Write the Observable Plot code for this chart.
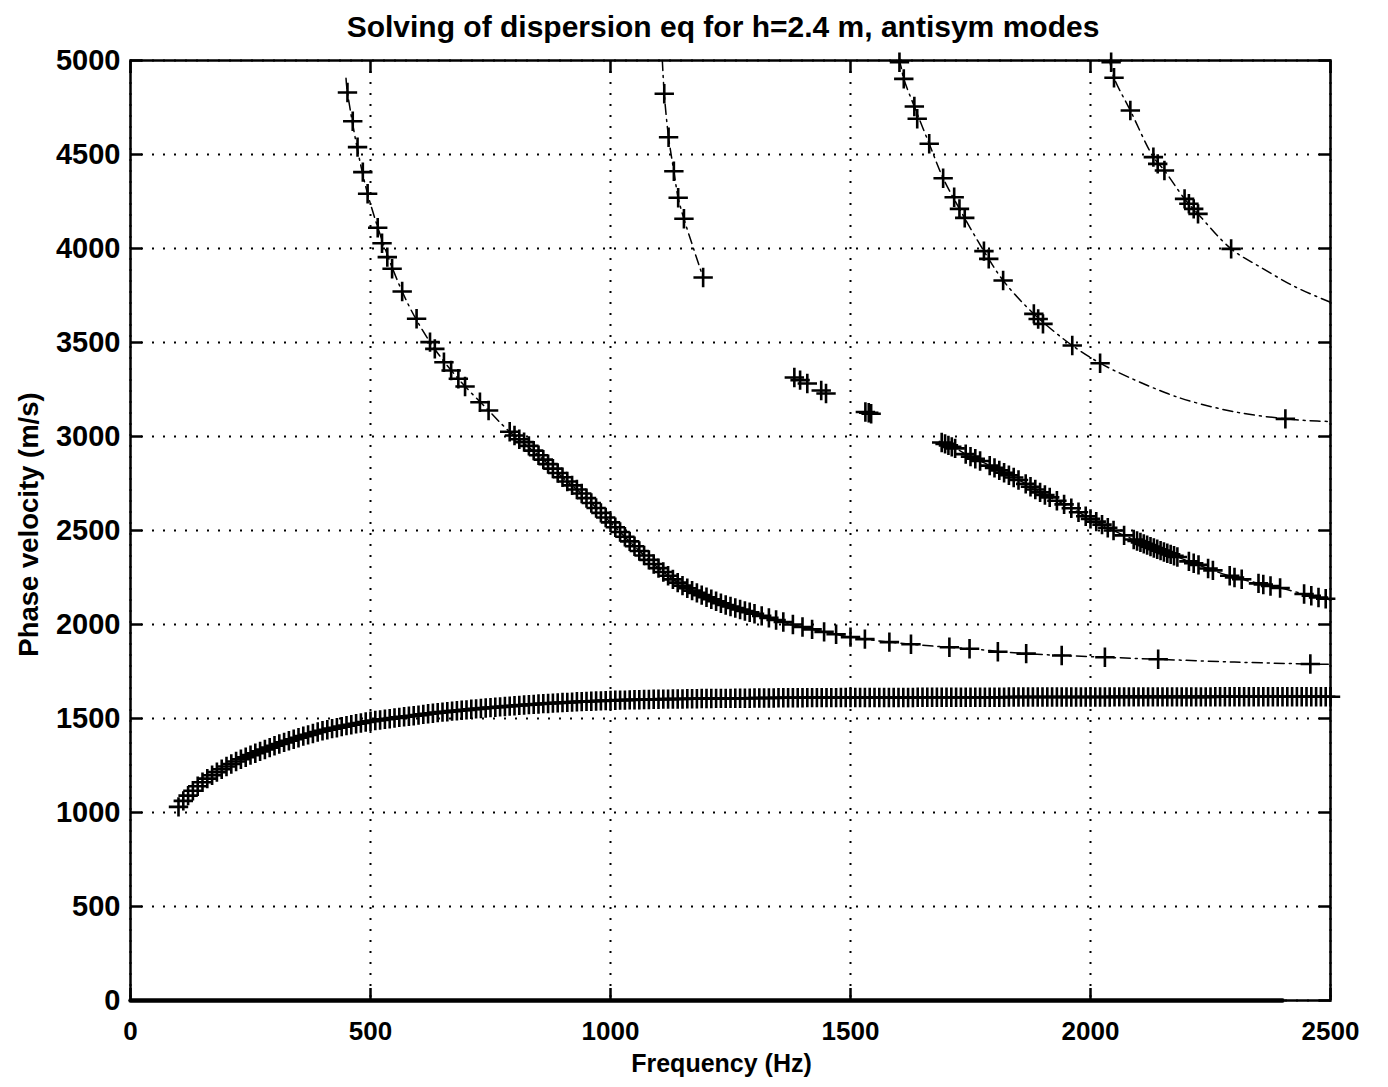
<!DOCTYPE html>
<html>
<head>
<meta charset="utf-8">
<script src="https://cdn.jsdelivr.net/npm/d3@7"></script>
<script src="https://cdn.jsdelivr.net/npm/@observablehq/plot@0.6"></script>
<style>
  body { margin: 0; background: #fff; }
  #title { box-sizing: border-box; width: 1388px; height: 46px; line-height: 1;
    font: bold 30px "Liberation Sans", Arial, sans-serif; text-align: center;
    padding-top: 10px; padding-left: 116px; padding-right: 58px; color: #000; white-space: nowrap; }
</style>
</head>
<body>
<div id="title">Solving of dispersion eq for h=2.4 m, antisym modes</div>
<div id="chart"></div>
<script>
// ---- tick values ----
const xTicks = [0, 500, 1000, 1500, 2000, 2500];
const yTicks = [0, 500, 1000, 1500, 2000, 2500, 3000, 3500, 4000, 4500, 5000];
const xLabel = "Frequency (Hz)";
const yLabel = "Phase velocity (m/s)";

// ---- mode 0 (fundamental) roots ----
const mode0F = [100,110,120,130,140,150,160,170,180,190,200,
 210,220,230,240,250,260,270,280,290,300,
 310,320,330,340,350,360,370,380,390,400,
 410,420,430,440,450,460,470,480,490,500,
 510,520,530,540,550,560,570,580,590,600,
 610,620,630,640,650,660,670,680,690,700,
 710,720,730,740,750,760,770,780,790,800,
 810,820,830,840,850,860,870,880,890,900,
 910,920,930,940,950,960,970,980,990,1000,
 1010,1020,1030,1040,1050,1060,1070,1080,1090,1100,
 1110,1120,1130,1140,1150,1160,1170,1180,1190,1200,
 1210,1220,1230,1240,1250,1260,1270,1280,1290,1300,
 1310,1320,1330,1340,1350,1360,1370,1380,1390,1400,
 1410,1420,1430,1440,1450,1460,1470,1480,1490,1500,
 1510,1520,1530,1540,1550,1560,1570,1580,1590,1600,
 1610,1620,1630,1640,1650,1660,1670,1680,1690,1700,
 1710,1720,1730,1740,1750,1760,1770,1780,1790,1800,
 1810,1820,1830,1840,1850,1860,1870,1880,1890,1900,
 1910,1920,1930,1940,1950,1960,1970,1980,1990,2000,
 2010,2020,2030,2040,2050,2060,2070,2080,2090,2100,
 2110,2120,2130,2140,2150,2160,2170,2180,2190,2200,
 2210,2220,2230,2240,2250,2260,2270,2280,2290,2300,
 2310,2320,2330,2340,2350,2360,2370,2380,2390,2400,
 2410,2420,2430,2440,2450,2460,2470,2480,2490,2500];
const mode0V = [1030,1062,1090,1116,1140,1161,1180,1198,1215,1230,1245,
 1258,1271,1283,1294,1305,1315,1325,1335,1345,1355,
 1364,1373,1382,1390,1398,1406,1413,1420,1428,1435,
 1440,1446,1451,1457,1462,1467,1472,1476,1481,1485,
 1489,1492,1496,1499,1503,1506,1509,1512,1515,1518,
 1522,1525,1528,1531,1534,1536,1539,1541,1544,1546,
 1549,1551,1553,1556,1558,1560,1562,1564,1566,1568,
 1570,1572,1574,1575,1577,1579,1580,1582,1583,1585,
 1586,1587,1589,1590,1591,1592,1593,1594,1595,1596,
 1597,1598,1598,1599,1600,1600,1601,1601,1602,1602,
 1603,1603,1604,1604,1604,1605,1605,1605,1606,1606,
 1606,1607,1607,1607,1607,1608,1608,1608,1608,1609,
 1609,1609,1609,1609,1610,1610,1610,1610,1610,1610,
 1611,1611,1611,1611,1611,1611,1611,1612,1612,1612,
 1612,1612,1612,1612,1612,1612,1612,1612,1612,1612,
 1612,1612,1612,1613,1613,1613,1613,1613,1613,1613,
 1613,1613,1613,1613,1613,1613,1613,1613,1613,1613,
 1613,1613,1614,1614,1614,1614,1614,1614,1614,1614,
 1614,1614,1614,1614,1614,1614,1614,1614,1614,1614,
 1614,1614,1614,1614,1615,1615,1615,1615,1615,1615,
 1615,1615,1615,1615,1615,1615,1615,1615,1615,1615,
 1615,1615,1615,1615,1615,1616,1616,1616,1616,1616,
 1616,1616,1616,1616,1616,1616,1616,1616,1616,1616,
 1616,1616,1616,1616,1616,1616,1616,1616,1616,1616];

// ---- mode 1 roots and curve ----
const mode1F = [452,463,473,484,494,515,524,535,545,566,596,624,634,653,668,683,697,728,746,
 790,800,810,820,830,840,850,860,870,880,890,900,910,920,930,940,950,960,970,980,
 990,1000,1010,1020,1030,1040,1050,1060,1070,1080,1090,1100,1110,1120,1130,1140,1150,1160,1170,1180,
 1190,1200,1210,1220,1230,1240,1250,1260,1270,1280,1290,1300,
 1315,1330,1345,1360,1380,1400,1420,1445,1470,1500,1530,1581,1626,1706,1748,1807,1866,1940,2030,2141,2458];
const mode1V = [4830,4677,4539,4406,4291,4110,4028,3954,3892,3771,3626,3502,3466,3395,3351,3307,3266,3182,3138,
 3025,3005,2985,2970,2950,2925,2900,2877,2853,2829,2806,2783,2761,2740,2718,2697,2672,2646,2620,2594,
 2569,2543,2517,2492,2467,2442,2416,2391,2367,2344,2322,2300,2279,2259,2240,2223,2207,2193,2180,2168,
 2156,2145,2134,2124,2113,2104,2096,2088,2080,2072,2065,2057,
 2046,2035,2024,2013,2000,1987,1974,1961,1948,1933,1922,1906,1895,1879,1871,1855,1845,1835,1826,1815,1790];
const curve1F = [449,452,494,566,624,683,746,790,850,900,950,1000,1050,1100,1150,1200,1250,1300,1400,1500,1626,1748,1866,2030,2141,2300,2458,2500];
const curve1V = [4905,4830,4291,3771,3502,3307,3138,3025,2900,2783,2672,2543,2416,2300,2207,2145,2096,2057,1987,1933,1895,1871,1845,1826,1815,1800,1790,1788];

// ---- mode 2 roots and curves ----
const mode2UpperF = [1112,1121,1132,1141,1153,1193];
const mode2UpperV = [4823,4592,4411,4270,4158,3846];
const curve2UpperF = [1108,1112,1121,1132,1141,1153,1193];
const curve2UpperV = [5000,4823,4592,4411,4270,4158,3846];
const mode2MidF = [1383,1395,1410,1439,1449,1531,1538,1543];
const mode2MidV = [3314,3300,3282,3245,3229,3130,3126,3121];
const mode2LowerF = [1690,1697,1704,1711,1718,1740,1750,1760,1770,1790,1800,1810,1820,1830,1840,1850,
 1865,1875,1885,1895,1905,1915,1930,1945,1960,1975,1990,2000,2012,2024,2036,2048,2070,2090,
 2097,2104,2111,2118,2125,2132,2139,2146,2153,2160,2167,2174,2181,2205,2215,2225,2245,2255,
 2290,2300,2315,2350,2360,2375,2395,2445,2460,2475,2490];
const mode2LowerV = [2968,2961,2953,2945,2937,2906,2893,2882,2870,2845,2833,2820,2807,2794,2782,2769,
 2748,2733,2718,2703,2689,2676,2658,2639,2618,2597,2576,2562,2547,2531,2515,2500,2474,2452,
 2444,2437,2429,2422,2414,2407,2400,2393,2386,2379,2373,2366,2359,2336,2326,2317,2298,2288,
 2259,2250,2241,2219,2213,2205,2194,2162,2153,2144,2137];
const curve2LowerF = [1685,1690,1720,1745,1776,1811,1859,1894,1943,2000,2055,2103,2159,2201,2256,2298,2340,2402,2472,2500];
const curve2LowerV = [2974,2968,2935,2899,2863,2819,2757,2704,2642,2562,2491,2438,2380,2340,2287,2252,2225,2190,2145,2132];

// ---- mode 3 ----
const mode3F = [1602,1611,1633,1639,1664,1693,1716,1727,1738,1778,1788,1818,1882,1891,1901,1962,2020,2406];
const mode3V = [4991,4902,4755,4690,4557,4374,4273,4211,4163,3986,3945,3830,3652,3625,3599,3484,3390,3094];
const curve3F = [1596,1602,1611,1633,1664,1693,1727,1778,1818,1882,1962,2020,2079,2162,2215,2305,2406,2472,2500];
const curve3V = [5000,4991,4902,4755,4557,4374,4211,3986,3830,3652,3484,3390,3316,3227,3183,3129,3094,3082,3080];

// ---- mode 4 ----
const mode4F = [2043,2049,2083,2131,2140,2154,2196,2205,2215,2224,2293];
const mode4V = [4991,4908,4734,4486,4450,4415,4264,4238,4211,4184,3998];
const curve4F = [2040,2049,2083,2131,2154,2196,2224,2293,2354,2428,2500];
const curve4V = [5000,4908,4734,4486,4415,4264,4184,3998,3901,3794,3714];

// ---- spurious zero-velocity roots ----
const zeroF = [0, 2400];
const zeroV = [0, 0];

const pts = (F, V) => F.map((f, i) => ({f, v: V[i]}));

const markerOpts = {x: "f", y: "v", symbol: "plus", r: 6.3, stroke: "black", strokeWidth: 2.6};
const lineOpts = {x: "f", y: "v", stroke: "black", strokeWidth: 1.5, strokeDasharray: "10,5,2,5", curve: "catmull-rom"};
const gridOpts = {stroke: "black", strokeOpacity: 1, strokeWidth: 2, strokeDasharray: "2,9"};
const labelFont = "'Liberation Sans', Arial, sans-serif";

const chart = Plot.plot({
  width: 1388,
  height: 1041,
  marginTop: 14,
  marginBottom: 87,
  marginLeft: 130,
  marginRight: 58,
  x: {domain: [0, 2500]},
  y: {domain: [0, 5000]},
  style: {fontFamily: labelFont, fontWeight: "bold", fontSize: "29px", color: "black", background: "white", overflow: "visible"},
  marks: [
    Plot.gridX(xTicks, gridOpts),
    Plot.gridY(yTicks, gridOpts),
    Plot.line(pts(curve1F, curve1V), lineOpts),
    Plot.line(pts(curve2UpperF, curve2UpperV), lineOpts),
    Plot.line(pts(curve2LowerF, curve2LowerV), lineOpts),
    Plot.line(pts(curve3F, curve3V), lineOpts),
    Plot.line(pts(curve4F, curve4V), lineOpts),
    Plot.line(pts(zeroF, zeroV), {x: "f", y: "v", stroke: "black", strokeWidth: 4.5}),
    Plot.dot(pts(mode0F, mode0V), markerOpts),
    Plot.dot(pts(mode1F, mode1V), markerOpts),
    Plot.dot(pts(mode2UpperF, mode2UpperV), markerOpts),
    Plot.dot(pts(mode2MidF, mode2MidV), markerOpts),
    Plot.dot(pts(mode2LowerF, mode2LowerV), markerOpts),
    Plot.dot(pts(mode3F, mode3V), markerOpts),
    Plot.dot(pts(mode4F, mode4V), markerOpts),
    Plot.frame({stroke: "black", strokeWidth: 2.5}),
    Plot.axisX(xTicks, {anchor: "bottom", tickSize: -12, tickPadding: 33, fontSize: 26, tickFormat: d => String(d), label: null, strokeWidth: 2.5}),
    Plot.axisX(xTicks, {anchor: "top", tickSize: -12, tickFormat: () => "", label: null, strokeWidth: 2.5}),
    Plot.axisY(yTicks, {anchor: "left", tickSize: -12, tickPadding: 22, fontSize: 29, tickFormat: d => String(d), label: null, strokeWidth: 2.5}),
    Plot.axisY(yTicks, {anchor: "right", tickSize: -12, tickFormat: () => "", label: null, strokeWidth: 2.5}),
    Plot.text([xLabel], {frameAnchor: "bottom", dx: -9, dy: 63, lineAnchor: "middle", textAnchor: "middle", text: d => d, fontFamily: labelFont, fontSize: 25, fontWeight: "bold", fill: "black"}),
    Plot.text([yLabel], {frameAnchor: "left", dx: -101, dy: -6, rotate: -90, lineAnchor: "middle", textAnchor: "middle", text: d => d, fontFamily: labelFont, fontSize: 27.5, fontWeight: "bold", fill: "black"})
  ]
});
document.getElementById("chart").appendChild(chart);
</script>
</body>
</html>
